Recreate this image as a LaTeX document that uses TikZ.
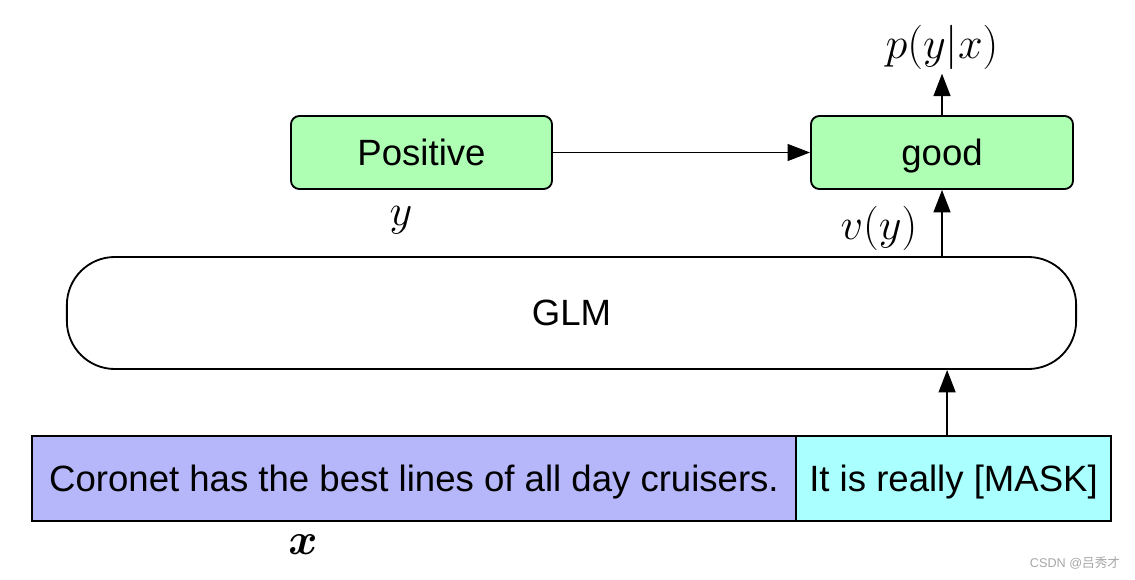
\RequirePackage{fix-cm}
\documentclass[tikz,border=0pt]{standalone}
\usepackage{bm}
\usepackage{fontspec}
\setmainfont{Liberation Sans}
\newfontfamily\cjk{Noto Sans CJK SC}
\usetikzlibrary{arrows.meta}
\definecolor{wordgreen}{HTML}{AEFFB4}
\definecolor{sentblue}{HTML}{B6B6FA}
\definecolor{maskcyan}{HTML}{AAFFFF}
\begin{document}
\begin{tikzpicture}[x=0.025cm, y=-0.025cm]
    \useasboundingbox (0,0) rectangle (1135,579);
    \begin{scope}
        \tikzstyle{every node}=[draw=black, line width=1.3pt, text=black, inner sep=0pt, text height=18pt, text depth=0pt, font=\fontsize{26}{30}\selectfont]
        \node[fill=wordgreen, rounded corners=6pt, minimum width=6.525cm, minimum height=1.825cm] (positive) at (421.5,152.5) {Positive};
        \node[fill=wordgreen, rounded corners=6pt, minimum width=6.55cm, minimum height=1.825cm] (good) at (942,152.5) {good};
        \node[fill=white, rounded corners=1.2cm, minimum width=25.225cm, minimum height=2.8cm] (glm) at (571.5,313) {GLM};
        \node[fill=sentblue, minimum width=19.1cm, minimum height=2.125cm] (sent) at (414,478.5) {Coronet has the best lines of all day cruisers.};
        \node[fill=maskcyan, minimum width=7.875cm, minimum height=2.125cm] (mask) at (953.5,478.5) {It is really [MASK]};
    \end{scope}
    \begin{scope}
        \tikzstyle{every node}=[inner sep=1pt, font=\fontsize{31.5}{36}\selectfont]
        \node (prob) at (942,47) {$p(y|x)$};
        \node (ylab) at (401,220) {$y$};
        \node (vlab) at (879,228) {$v(y)$};
        \node (xlab) at (303,545) {$\bm{x}$};
        \node[text=gray!70, font=\fontsize{9}{11}\selectfont] (mark) at (1075,563) {CSDN @{\cjk 吕秀才}};
    \end{scope}
    \begin{scope}
        \tikzstyle{every edge}=[draw, line width=1.3pt, -{Triangle[length=16pt, width=12pt]}]
        \path
        (positive) edge (good)
        (good) edge ([yshift=-2pt]prob.south)
        (glm.north -| good) edge (good)
        ([xshift=-0.16cm]mask.north) edge ([xshift=-0.16cm]mask.north |- glm.south);
    \end{scope}
\end{tikzpicture}
\end{document}
